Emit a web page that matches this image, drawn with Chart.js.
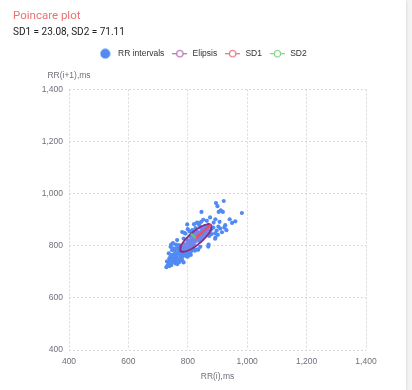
<!DOCTYPE html>
<html><head><meta charset="utf-8">
<script src="https://cdn.jsdelivr.net/npm/chart.js@4.4.0/dist/chart.umd.min.js"></script>
<style>
html,body{margin:0;padding:0;background:#f4f4f4;width:412px;height:390px;overflow:hidden;}
#card{position:absolute;left:0;top:0;width:406px;height:390px;background:#fff;box-shadow:0 1px 3px rgba(0,0,0,0.18);}
#title{position:absolute;left:13px;top:10.3px;font:400 11.5px/1 Roboto,sans-serif;color:#e97272;white-space:nowrap;}
#sub{position:absolute;left:13px;top:27.3px;font:400 10px/1 Roboto,sans-serif;color:#222;white-space:nowrap;}
canvas{position:absolute;left:0;top:0;}
</style></head><body>
<div id="card"><canvas id="c" width="406" height="390" style="width:406px;height:390px"></canvas><div id="title"></div><div id="sub"></div></div>
<script>
// ---- data ----
const chartTitle = 'Poincare plot';
const sd1 = 23.08;
const sd2 = 71.11;
const centerX = 827;   // mean RR(i)
const centerY = 830;   // mean RR(i+1)
const seriesNames = ['RR intervals', 'Elipsis', 'SD1', 'SD2'];
const xAxisName = 'RR(i),ms';
const yAxisName = 'RR(i+1),ms';
const axisMin = 400, axisMax = 1400, axisStep = 200;

const rrX = [895,921,900,904,918,982,846,941,949,960,893,907,887,831,845,839,798,909,926,875,852,864,923,903,835,821,911,930,897,886,878,870,858,853,880,892,901,915,872,866,860,848,843,826,815,806,800,788,781,792,786,764,770,809,820,893,870,842,833,800,784,
790,796,803,808,812,818,822,828,833,838,843,849,855,861,866,872,800,806,814,820,826,832,814,820,826,832,838,844,850,856,862,868,795,802,810,785,778,790,798,808,818,840,848,855,862,
742,747,736,742,753,747,736,759,764,775,764,781,753,770,792,803,786,740,786,732,745,752,758,762,768,772,778,783,790,795,757,750,738,744,760,768,776,780,798,812,820,808,770,756,748,730,765,775,782,794,760,750,744,
892,869,835,824,810,728,738];
const rrY = [964,972,952,930,930,926,930,902,888,894,902,892,889,889,892,879,882,866,879,909,900,896,870,874,887,883,936,860,858,870,862,880,876,868,845,848,842,852,838,852,840,858,870,868,860,855,864,850,853,847,828,822,803,815,803,831,805,796,786,758,771,
792,800,806,814,820,826,832,835,842,848,852,856,860,866,872,876,812,820,832,840,846,854,806,812,818,824,830,836,842,848,854,860,785,792,798,795,786,806,822,836,850,818,826,834,842,
796,783,771,758,752,739,732,732,771,762,745,745,767,783,767,771,783,745,736,725,726,738,745,758,750,738,752,760,775,760,780,790,752,764,790,795,800,790,778,780,790,770,770,760,748,740,730,772,778,796,805,810,805,
827,797,785,781,765,718,722];

// ---- derived geometry (from SD1 / SD2 and the mean) ----
const r2 = Math.SQRT1_2;
const ellipsePts = [];
for (let k = 0; k <= 72; k++) {
  const t = 2 * Math.PI * k / 72;
  const u = sd2 * Math.cos(t), v = sd1 * Math.sin(t);
  ellipsePts.push({x: centerX + (u - v) * r2, y: centerY + (u + v) * r2});
}
const sd1Line = [{x: centerX, y: centerY}, {x: centerX + sd2 * r2, y: centerY + sd2 * r2}];
const sd2Line = [{x: centerX, y: centerY}, {x: centerX - sd1 * r2, y: centerY + sd1 * r2}];

document.getElementById('title').textContent = chartTitle;
document.getElementById('sub').textContent = 'SD1 = ' + sd1.toFixed(2) + ', SD2 = ' + sd2.toFixed(2);

const colors = {pts: '#528af3', ell: '#8a2b82', legEll: '#a24f9e', ellFill: 'rgba(170,125,220,0.34)', sd1: '#ec4c62', sd2: '#6cc46f'};
const axisFont = {family: '"Liberation Sans", Arial, sans-serif', size: 8.5};
const axisColor = '#6e7079';
const gridColor = '#d8d8d8';

function makeDot(color) {
  const c = document.createElement('canvas'); c.width = 11; c.height = 11;
  const g = c.getContext('2d'); g.fillStyle = color; g.beginPath(); g.arc(5.5, 5.5, 5, 0, Math.PI * 2); g.fill();
  return c;
}
function makeLineIcon(color) {
  const c = document.createElement('canvas'); c.width = 15; c.height = 9;
  const g = c.getContext('2d'); g.strokeStyle = color; g.lineWidth = 1;
  g.beginPath(); g.moveTo(0, 4.5); g.lineTo(15, 4.5); g.stroke();
  g.beginPath(); g.arc(7.5, 4.5, 3.3, 0, Math.PI * 2); g.fillStyle = '#fff'; g.fill(); g.stroke();
  return c;
}
const legendIcons = [makeDot(colors.pts), makeLineIcon(colors.legEll), makeLineIcon(colors.sd1), makeLineIcon(colors.sd2)];

// layout box reserving space for the y-axis name above the plot
const yNamePlugin = {
  id: 'yName',
  beforeInit(chart) {
    const box = {
      position: 'top', weight: 500, fullSize: true, options: {},
      isHorizontal() { return true; },
      update(maxW) { this.width = maxW; this.height = 21.5; },
      draw() {
        const ctx = chart.ctx; ctx.save();
        ctx.font = axisFont.size + 'px ' + axisFont.family;
        ctx.fillStyle = axisColor; ctx.textAlign = 'center'; ctx.textBaseline = 'middle';
        ctx.fillText(yAxisName, chart.chartArea.left, this.top + 7.5);
        ctx.restore();
      }
    };
    if (Chart.layouts && Chart.layouts.addBox) Chart.layouts.addBox(chart, box);
    else { box._layers = () => [{z: 0, draw() { box.draw(); }}]; chart.boxes.push(box); }
  }
};

const padLeft = 37.5;
new Chart(document.getElementById('c'), {
  type: 'scatter',
  data: {
    datasets: [
      {label: seriesNames[0], data: rrX.map((x, i) => ({x, y: rrY[i]})), backgroundColor: colors.pts, borderWidth: 0, pointRadius: 2.1, order: 4},
      {label: seriesNames[1], data: ellipsePts, showLine: true, borderColor: colors.ell, borderWidth: 1.8, backgroundColor: colors.ellFill, fill: 'shape', pointRadius: 0, tension: 0, order: 3},
      {label: seriesNames[2], data: sd1Line, showLine: true, borderColor: colors.sd1, borderWidth: 2.5, pointRadius: 0, fill: false, order: 2},
      {label: seriesNames[3], data: sd2Line, showLine: true, borderColor: colors.sd2, borderWidth: 2.2, pointRadius: 0, fill: false, order: 1}
    ]
  },
  options: {
    responsive: false, animation: false, events: [],
    layout: {padding: {left: padLeft, right: 40, top: 42.5, bottom: 0}},
    plugins: {
      tooltip: {enabled: false},
      title: {display: false},
      legend: {
        display: true, position: 'top', align: 'center',
        labels: {
          usePointStyle: true, pointStyleWidth: 17, boxHeight: 9, padding: 7,
          font: {family: '"Liberation Sans", Arial, sans-serif', size: 8.5}, color: '#333',
          generateLabels: (chart) => chart.data.datasets.map((ds, i) => ({
            text: ds.label, pointStyle: legendIcons[i], fillStyle: 'transparent', strokeStyle: 'transparent',
            lineWidth: 0, fontColor: '#333', hidden: !chart.isDatasetVisible(i), datasetIndex: i
          }))
        }
      }
    },
    scales: {
      x: {
        type: 'linear', position: 'bottom', min: axisMin, max: axisMax,
        ticks: {stepSize: axisStep, padding: 7, font: axisFont, color: axisColor, maxRotation: 0},
        grid: {color: gridColor, lineWidth: 1, drawTicks: false},
        border: {display: false, dash: [2, 2]},
        title: {display: true, text: xAxisName, font: axisFont, color: axisColor, padding: {top: 0, bottom: 7.9}},
        afterFit(s) { s.height = 40; }
      },
      y: {
        type: 'linear', position: 'left', min: axisMin, max: axisMax,
        ticks: {stepSize: axisStep, padding: 6, font: axisFont, color: axisColor},
        grid: {color: gridColor, lineWidth: 1, drawTicks: false},
        border: {display: false, dash: [2, 2]},
        afterFit(s) { s.width = 69 - padLeft; }
      }
    }
  },
  plugins: [yNamePlugin]
});
</script>
</body></html>
